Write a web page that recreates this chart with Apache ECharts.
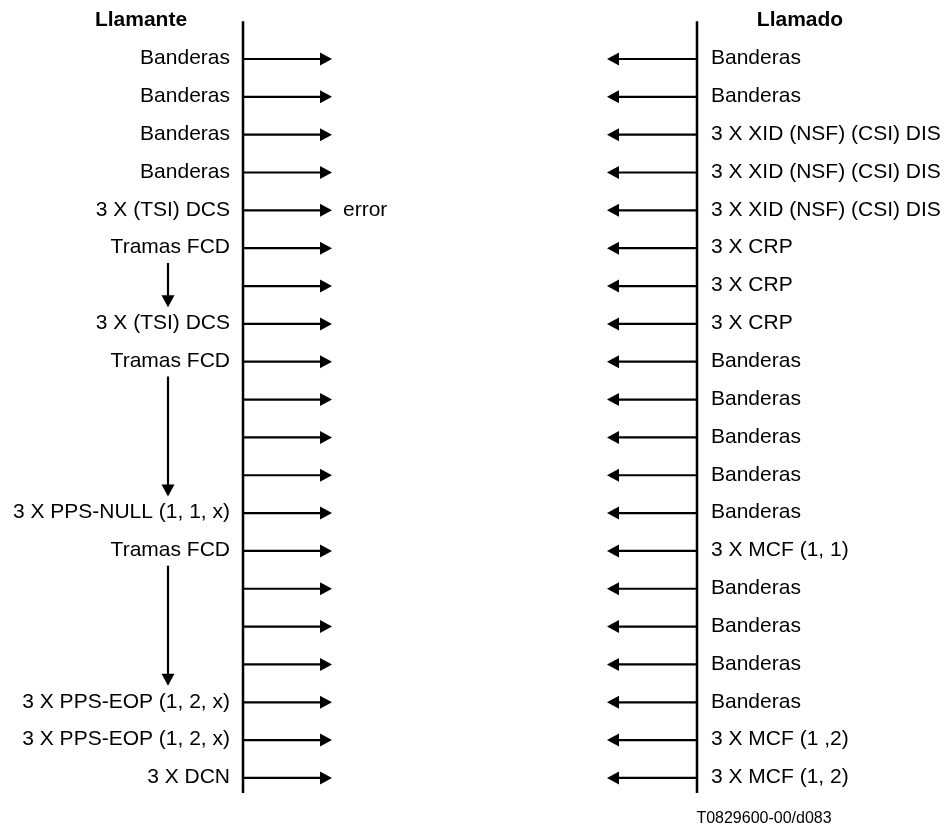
<!DOCTYPE html>
<html>
<head>
<meta charset="utf-8">
<script src="https://cdn.jsdelivr.net/npm/echarts@6/dist/echarts.min.js"></script>
<style>html,body{margin:0;padding:0;background:#fff}#c{width:947px;height:830px}</style>
</head>
<body>
<div id="c"></div>
<script>
// ---- data ----
const callerTitle = 'Llamante';
const calledTitle = 'Llamado';
const leftLabels = [
  'Banderas', 'Banderas', 'Banderas', 'Banderas', '3 X (TSI) DCS', 'Tramas FCD', '',
  '3 X (TSI) DCS', 'Tramas FCD', '', '', '', '3 X PPS-NULL (1, 1, x)', 'Tramas FCD',
  '', '', '', '3 X PPS-EOP (1, 2, x)', '3 X PPS-EOP (1, 2, x)', '3 X DCN'
];
const rightLabels = [
  'Banderas', 'Banderas', '3 X XID (NSF) (CSI) DIS', '3 X XID (NSF) (CSI) DIS',
  '3 X XID (NSF) (CSI) DIS', '3 X CRP', '3 X CRP', '3 X CRP', 'Banderas', 'Banderas',
  'Banderas', 'Banderas', 'Banderas', '3 X MCF (1, 1)', 'Banderas', 'Banderas',
  'Banderas', 'Banderas', '3 X MCF (1 ,2)', '3 X MCF (1, 2)'
];
const rows = leftLabels.map((_, i) => i);
const errorRow = 4;
const errorText = 'error';
const flowSpans = [[5, 7], [8, 12], [13, 17]];
const footerText = 'T0829600-00/d083';

// ---- layout (x in page units along the hidden x axis) ----
const LX = 243, RX = 697, ALEN = 89, FLOWX = 168;
const FONT = 'Liberation Sans, Arial, sans-serif';
const TXT_DY = -0.5;

const chart = echarts.init(document.getElementById('c'));

function arrowHead(tip, dx, dy) {
  const len = 12, hw = 6.5;
  const bx = tip[0] - dx * len, by = tip[1] - dy * len;
  return {type: 'polygon', shape: {points: [tip, [bx - dy * hw, by + dx * hw], [bx + dy * hw, by - dx * hw]]}, style: {fill: '#000'}};
}
function txt(x, y, text, align, size, weight) {
  return {type: 'text', style: {text: text, x: x, y: y, align: align, verticalAlign: 'middle',
    fontSize: size || 21, fontFamily: FONT, fontWeight: weight || 'normal', fill: '#000'}};
}

chart.setOption({
  animation: false,
  grid: {left: 0, right: 0, top: 21.16, bottom: 14.2},
  xAxis: {type: 'value', min: 0, max: 947, show: false},
  yAxis: {type: 'value', min: -1, max: 20, inverse: true, show: false},
  series: [
    {
      type: 'custom', name: 'frame', data: [0],
      renderItem: function (params, api) {
        const lt = api.coord([LX, -1]), lb = api.coord([LX, 19.4]);
        const rt = api.coord([RX, -1]), rb = api.coord([RX, 19.4]);
        const t1 = api.coord([141, -1.02]);
        const t2 = api.coord([800, -1.02]);
        const f = api.coord([764, 20.08]);
        return {type: 'group', children: [
          {type: 'line', shape: {x1: lt[0], y1: lt[1], x2: lb[0], y2: lb[1]}, style: {stroke: '#000', lineWidth: 2.5}},
          {type: 'line', shape: {x1: rt[0], y1: rt[1], x2: rb[0], y2: rb[1]}, style: {stroke: '#000', lineWidth: 2.5}},
          txt(t1[0], t1[1], callerTitle, 'center', 21, 'bold'),
          txt(t2[0], t2[1], calledTitle, 'center', 21, 'bold'),
          txt(f[0], f[1], footerText, 'center', 16)
        ]};
      }
    },
    {
      type: 'custom', name: 'messages', data: rows,
      renderItem: function (params, api) {
        const r = api.value(0), i = params.dataIndex;
        const a = api.coord([LX, r]), b = api.coord([LX + ALEN, r]);
        const c = api.coord([RX, r]), d = api.coord([RX - ALEN - 1, r]);
        const ch = [
          {type: 'line', shape: {x1: a[0], y1: a[1], x2: b[0] - 8, y2: b[1]}, style: {stroke: '#000', lineWidth: 2.2}},
          arrowHead(b, 1, 0),
          {type: 'line', shape: {x1: c[0], y1: c[1], x2: d[0] + 8, y2: d[1]}, style: {stroke: '#000', lineWidth: 2.2}},
          arrowHead(d, -1, 0)
        ];
        if (leftLabels[i]) ch.push(txt(a[0] - 13, a[1] + TXT_DY, leftLabels[i], 'right'));
        if (rightLabels[i]) ch.push(txt(c[0] + 14, c[1] + TXT_DY, rightLabels[i], 'left'));
        if (i === errorRow) ch.push(txt(b[0] + 11, b[1] + TXT_DY, errorText, 'left'));
        return {type: 'group', children: ch};
      }
    },
    {
      type: 'custom', name: 'flow', data: flowSpans,
      renderItem: function (params, api) {
        const s = api.value(0), e = api.value(1);
        const p1 = api.coord([FLOWX, s + 0.39]), p2 = api.coord([FLOWX, e - 0.44]);
        return {type: 'group', children: [
          {type: 'line', shape: {x1: p1[0], y1: p1[1], x2: p2[0], y2: p2[1] - 8}, style: {stroke: '#000', lineWidth: 2.2}},
          arrowHead(p2, 0, 1)
        ]};
      }
    }
  ]
});
</script>
</body>
</html>
